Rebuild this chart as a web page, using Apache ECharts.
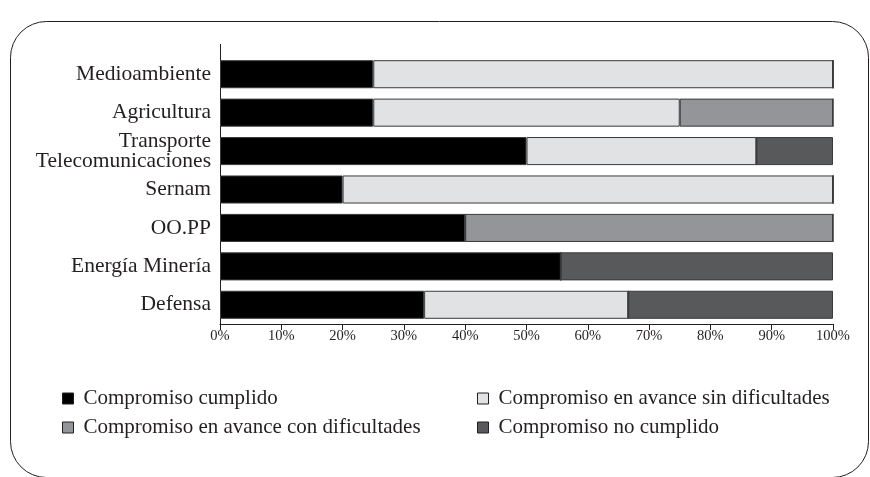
<!DOCTYPE html>
<html><head><meta charset="utf-8">
<script src="https://cdn.jsdelivr.net/npm/echarts@6/dist/echarts.min.js"></script>
<style>html,body{margin:0;padding:0;background:#fff}#c{width:870px;height:477px}</style>
</head><body><div id="c"></div>
<script>
const categories = ['Medioambiente','Agricultura','Transporte\nTelecomunicaciones','Sernam','OO.PP','Energía Minería','Defensa'];
const seriesNames = ['Compromiso cumplido','Compromiso en avance sin dificultades','Compromiso en avance con dificultades','Compromiso no cumplido'];
const cumplido      = [25, 25, 50, 20, 40, 55.6, 33.3];
const sinDificult   = [75, 50, 37.5, 80, 0, 0, 33.3];
const conDificult   = [0, 25, 0, 0, 60, 0, 0];
const noCumplido    = [0, 0, 12.5, 0, 0, 44.4, 33.4];
const xTicks = [0,10,20,30,40,50,60,70,80,90,100];
const colors = ['#000000','#e1e2e4','#949599','#58595b'];
const font = "'Liberation Serif', 'DejaVu Serif', serif";
const dataSets = [cumplido, sinDificult, conDificult, noCumplido];

const chart = echarts.init(document.getElementById('c'), null, {renderer:'canvas'});
const legendCommon = {orient:'vertical',top:383,itemWidth:11,itemHeight:11,itemGap:8,icon:'rect',
  itemStyle:{borderColor:'#231f20',borderWidth:1},
  textStyle:{fontFamily:font,fontSize:21,color:'#231f20',padding:[0,0,0,5]}};
chart.setOption({
  animation:false,
  textStyle:{fontFamily:font},
  grid:{left:220,right:37,top:55,bottom:153,containLabel:false},
  xAxis:{type:'value',min:0,max:100,interval:10,
    axisLine:{show:true,lineStyle:{color:'#231f20',width:1}},
    axisTick:{show:true,length:6,lineStyle:{color:'#231f20'}},
    splitLine:{show:false},
    axisLabel:{formatter:v=>v+'%',fontFamily:font,fontSize:14.5,color:'#231f20',margin:5}},
  yAxis:{type:'category',data:categories,inverse:true,
    axisLine:{show:true,lineStyle:{color:'#231f20',width:1}},
    axisTick:{show:false},
    axisLabel:{fontFamily:font,fontSize:21.5,color:'#231f20',margin:9,lineHeight:20,align:'right'}},
  legend:[
    Object.assign({data:[seriesNames[0],seriesNames[2]],left:57}, legendCommon),
    Object.assign({data:[seriesNames[1],seriesNames[3]],left:472}, legendCommon)
  ],
  graphic:[
    {type:'rect',shape:{x:10.5,y:21.5,width:858,height:456,r:36},style:{fill:'none',stroke:'#231f20',lineWidth:1},silent:true},
    {type:'line',shape:{x1:220.5,y1:44,x2:220.5,y2:56},style:{stroke:'#231f20',lineWidth:1},silent:true}
  ],
  series: seriesNames.map((n,i)=>({
    name:n,type:'bar',stack:'s',barCategoryGap:'27%',
    data:dataSets[i],
    itemStyle:{color:colors[i],borderColor:'#3a3a3a',borderWidth:1},
    emphasis:{disabled:true}
  }))
});
</script></body></html>
